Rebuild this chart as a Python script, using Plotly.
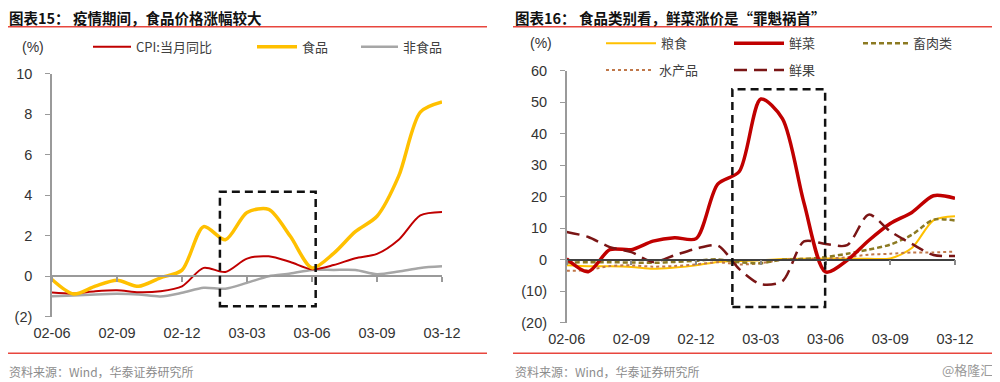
import plotly.graph_objects as go

# ---------------- data ----------------
months = ["02-06", "02-07", "02-08", "02-09", "02-10", "02-11", "02-12",
          "03-01", "03-02", "03-03", "03-04", "03-05", "03-06", "03-07",
          "03-08", "03-09", "03-10", "03-11", "03-12"]
tick_labels = ["02-06", "02-09", "02-12", "03-03", "03-06", "03-09", "03-12"]

# chart 15
cpi = [-0.8, -0.85, -0.74, -0.69, -0.79, -0.74, -0.5, 0.41, 0.21, 0.87, 0.98,
       0.7, 0.34, 0.55, 0.89, 1.1, 1.8, 3.0, 3.17]
food = [-0.16, -0.88, -0.49, -0.2, -0.5, -0.08, 0.3, 2.45, 1.8, 3.15, 3.3,
        1.97, 0.41, 1.13, 2.2, 2.96, 4.94, 8.1, 8.6]
nonfood = [-0.99, -0.95, -0.9, -0.87, -0.9, -1.0, -0.82, -0.57, -0.62, -0.33,
           0.0, 0.13, 0.31, 0.31, 0.31, 0.1, 0.23, 0.41, 0.49]

# chart 16
grain = [-1.8, -2.1, -2.1, -2.3, -2.9, -2.5, -1.8, -0.7, -0.4, -0.2, 0.2, 0.3,
         0.4, 0.3, 0.3, 0.4, 3.7, 12.5, 13.8]
vegetables = [0.3, -3.8, 3.2, 3.2, 5.9, 7.0, 6.7, 24.0, 28.0, 51.0, 44.8, 18.0,
              -3.9, -0.2, 6.1, 11.5, 15.0, 20.3, 19.5]
meat = [-0.9, -0.8, -0.8, -0.9, -1.0, -0.7, -0.3, 0.1, -0.8, -1.1, 0.0, 0.2,
        0.8, 1.9, 3.2, 4.8, 7.9, 12.7, 12.4]
aquatic = [-3.5, -3.3, -2.0, -1.8, -2.2, -2.0, -1.5, -0.8, -1.5, -1.1, 0.0, 0.3,
           0.3, 0.8, 1.6, 1.9, 2.3, 2.3, 2.6]
fruit = [8.8, 7.2, 4.0, 2.4, -0.7, 1.4, 3.5, 4.5, -3.0, -7.8, -6.8, 5.8, 5.0,
         4.6, 14.3, 9.0, 5.0, 1.5, 1.2]

left_yticks = [-2, 0, 2, 4, 6, 8, 10]
right_yticks = [-20, -10, 0, 10, 20, 30, 40, 50, 60]


def paren(v):
    return f"({abs(v)})" if v < 0 else str(v)


# The page body adds an 8px margin; the figure is sized and placed to compensate.
OFF = 8
W, H = 1000 - OFF, 382 - OFF


def PX(px):
    return max(px - OFF, 0) / W


def PY(py):
    return 1 - max(py - OFF, 0) / H


xi = list(range(len(months)))
tickvals = [months.index(t) for t in tick_labels]

fig = go.Figure()

LEG_FONT = dict(family="Noto Sans CJK SC", size=13, color="#404040")


def add(y, name, color, width, dash, xa, ya, legend):
    fig.add_trace(go.Scatter(
        x=xi, y=y, name=name, mode="lines",
        line=dict(color=color, width=width, dash=dash, shape="spline", smoothing=0.8),
        xaxis=xa, yaxis=ya, legend=legend, hoverinfo="skip"))


# invisible helpers so the zero-line axes are drawn
for xa, ya in [("x3", "y"), ("x4", "y2")]:
    fig.add_trace(go.Scatter(x=[xi[0], xi[-1]], y=[0, 0], mode="lines", opacity=0,
                             line=dict(width=0), showlegend=False, hoverinfo="skip",
                             xaxis=xa, yaxis=ya))

# left chart
add(nonfood, "非食品", "#A6A6A6", 2.5, "solid", "x", "y", "legend3")
add(cpi, "CPI:当月同比", "#C00000", 2, "solid", "x", "y", "legend")
add(food, "食品", "#FFC000", 3.5, "solid", "x", "y", "legend2")

# right chart
add(grain, "粮食", "#FFC000", 2, "solid", "x2", "y2", "legend4")
add(aquatic, "水产品", "#C0784A", 2, "dot", "x2", "y2", "legend7")
add(meat, "畜肉类", "#8C7A22", 2.5, "5px,3px", "x2", "y2", "legend6")
add(vegetables, "鲜菜", "#C00000", 3.5, "solid", "x2", "y2", "legend5")
add(fruit, "鲜果", "#7A1515", 2.5, "13px,7px", "x2", "y2", "legend8")

TICKFONT = dict(family="Liberation Sans, Arial", size=14.5, color="#333333")

L_dom_x = [PX(52), PX(442)]
L_dom_y = [PY(316.7), PY(73.7)]
R_dom_x = [PX(566.7), PX(955)]
R_dom_y = [PY(322.7), PY(70.7)]

L_zero = L_dom_y[0] + (L_dom_y[1] - L_dom_y[0]) * (0 - left_yticks[0]) / (left_yticks[-1] - left_yticks[0])
R_zero = R_dom_y[0] + (R_dom_y[1] - R_dom_y[0]) * (0 - right_yticks[0]) / (right_yticks[-1] - right_yticks[0])

xcommon = dict(range=[0, len(months) - 1], tickvals=tickvals, ticktext=tick_labels,
               showgrid=False, zeroline=False, fixedrange=True, automargin=False)

fig.update_layout(
    template="none",
    width=W, height=H, autosize=False, showlegend=True,
    margin=dict(l=0, r=0, t=0, b=0, pad=0),
    paper_bgcolor="white", plot_bgcolor="rgba(0,0,0,0)",
    xaxis=dict(domain=L_dom_x, anchor="y", showline=False, ticks="",
               tickfont=TICKFONT, ticklabelstandoff=6, **xcommon),
    xaxis3=dict(overlaying="x", anchor="free", position=L_zero, showline=True,
                linecolor="#9A9A9A", linewidth=2, ticks="outside", ticklen=5,
                tickwidth=1.5, tickcolor="#9A9A9A", showticklabels=False, **xcommon),
    yaxis=dict(domain=L_dom_y, anchor="x", range=[left_yticks[0], left_yticks[-1]],
               tickvals=left_yticks, ticktext=[paren(v) for v in left_yticks],
               showline=True, linecolor="#9A9A9A", linewidth=1.5, ticks="outside",
               ticklen=5, tickcolor="#9A9A9A", showgrid=False, zeroline=False,
               tickfont=TICKFONT, ticklabelstandoff=10, automargin=False),
    xaxis2=dict(domain=R_dom_x, anchor="y2", showline=False, ticks="",
                tickfont=TICKFONT, ticklabelstandoff=6, **xcommon),
    xaxis4=dict(overlaying="x2", anchor="free", position=R_zero, showline=True,
                linecolor="#404040", linewidth=1.5, ticks="outside", ticklen=5,
                tickwidth=1.5, tickcolor="#8A8A8A", showticklabels=False, **xcommon),
    yaxis2=dict(domain=R_dom_y, anchor="x2", range=[right_yticks[0], right_yticks[-1]],
                tickvals=right_yticks, ticktext=[paren(v) for v in right_yticks],
                showline=True, linecolor="#9A9A9A", linewidth=1.5, ticks="outside",
                ticklen=5, tickcolor="#9A9A9A", showgrid=False, zeroline=False,
                tickfont=TICKFONT, ticklabelstandoff=10, automargin=False),
)


def legend_at(px, py, iw):
    return dict(x=PX(px), y=PY(py), xanchor="left", yanchor="middle",
                orientation="h", bgcolor="rgba(0,0,0,0)", borderwidth=0,
                font=LEG_FONT, itemwidth=iw, tracegroupgap=0, visible=True)


fig.update_layout(
    legend=legend_at(88, 46.7, 38),
    legend2=legend_at(252, 46.7, 40),
    legend3=legend_at(356, 46.7, 37),
    legend4=legend_at(601, 43.3, 50),
    legend5=legend_at(729, 43.3, 50),
    legend6=legend_at(858, 43.3, 45),
    legend7=legend_at(601, 70, 48),
    legend8=legend_at(729, 70, 50),
)

# dashed highlight boxes
fig.add_shape(type="rect", xref="x", yref="y", x0=7.75, x1=12.17, y0=-1.48, y1=4.17,
              line=dict(color="#111111", width=2.5, dash="8px,5px"))
fig.add_shape(type="rect", xref="x2", yref="y2", x0=7.68, x1=11.98, y0=-15, y1=54.1,
              line=dict(color="#111111", width=2.5, dash="8px,5px"))

# separator lines
RED = "#E8463E"
for x0, x1 in [(3, 487), (513, 997)]:
    for yy in [26.7, 353.3]:
        fig.add_shape(type="line", xref="paper", yref="paper",
                      x0=PX(x0), x1=PX(x1), y0=PY(yy), y1=PY(yy),
                      line=dict(color=RED, width=1.5))


def text(px, py, s, size, color, bold=False, family="Noto Sans CJK SC", xanchor="left"):
    fig.add_annotation(x=PX(px), y=PY(py), xref="paper", yref="paper",
                       text=f"<b>{s}</b>" if bold else s, showarrow=False,
                       xanchor=xanchor, yanchor="middle", borderpad=0,
                       font=dict(family=family, size=size, color=color))


text(4, 17.5, "图表15： 疫情期间，食品价格涨幅较大", 14.5, "#111111", bold=True)
text(514, 17.5, "图表16： 食品类别看，鲜菜涨价是“罪魁祸首”", 14.5, "#111111", bold=True)
text(21, 46.7, "(%)", 14, "#333333", family="Liberation Sans, Arial")
text(529, 43.3, "(%)", 14, "#333333", family="Liberation Sans, Arial")
text(4, 371.7, "资料来源：Wind，华泰证券研究所", 12, "#8C8C8C")
text(514, 371.7, "资料来源：Wind，华泰证券研究所", 12, "#8C8C8C")
text(994, 369, "@格隆汇", 13, "#9A9A9A", xanchor="right")

fig.write_html("out.html")
